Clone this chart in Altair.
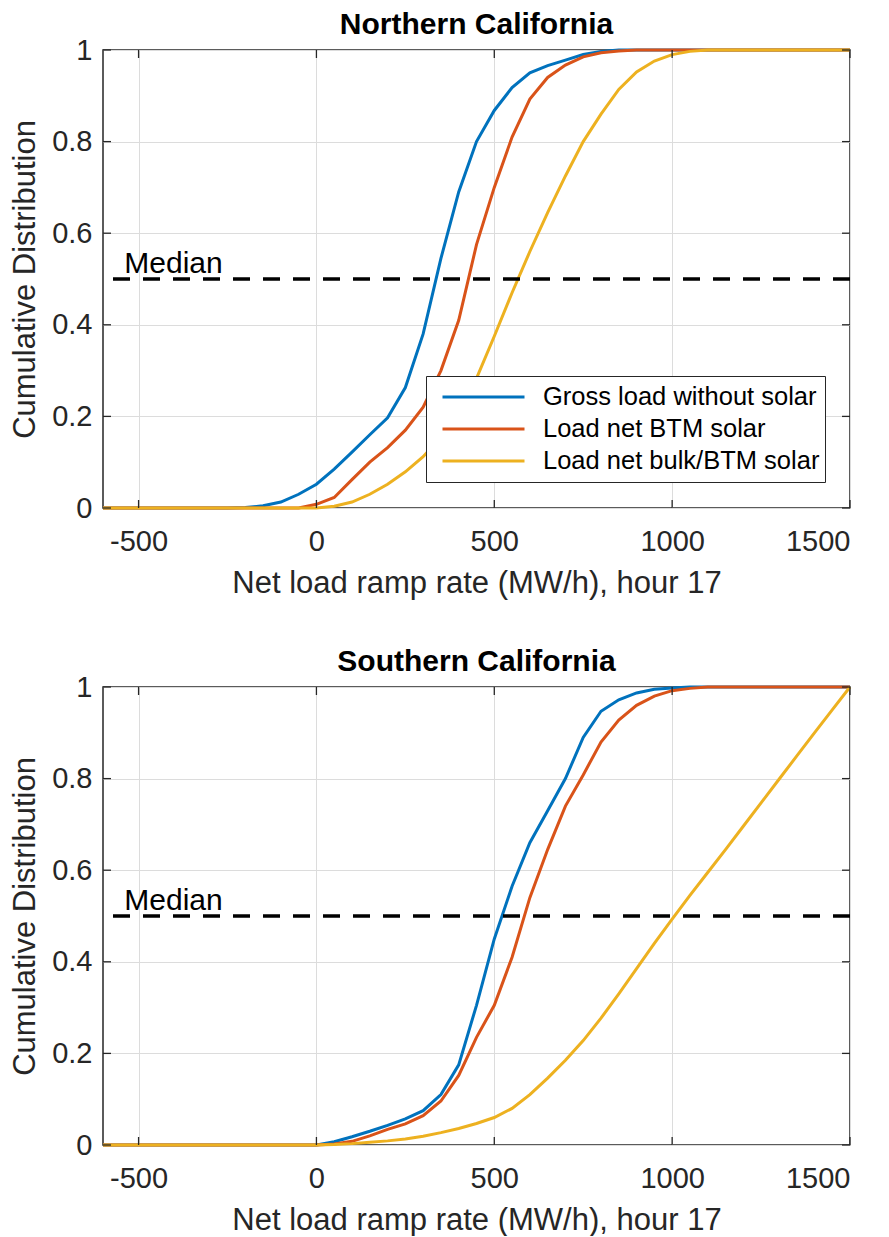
import altair as alt
import pandas as pd

FONT = "Liberation Sans"

series_names = ["Gross load without solar", "Load net BTM solar", "Load net bulk/BTM solar"]
series_colors = ["#0072BD", "#D95319", "#EDB120"]

x_ticks = [-500, 0, 500, 1000, 1500]
y_ticks = [0, 0.2, 0.4, 0.6, 0.8, 1]
median_level = 0.5
median_label_x = -540

# Northern California
n_blue_x = [-600, -250, -200, -150, -100, -50, 0, 50, 100, 150, 200, 250, 300, 350, 400, 450, 500, 550, 600, 650, 700, 750, 800, 850, 1500]
n_blue_y = [0, 0, 0.001, 0.005, 0.013, 0.03, 0.052, 0.085, 0.122, 0.16, 0.197, 0.263, 0.38, 0.545, 0.69, 0.80, 0.868, 0.918, 0.95, 0.966, 0.978, 0.99, 0.997, 1.0, 1.0]
n_red_x = [-600, -50, 0, 50, 100, 150, 200, 250, 300, 350, 400, 450, 500, 550, 600, 650, 700, 750, 800, 850, 900, 1500]
n_red_y = [0, 0, 0.008, 0.023, 0.062, 0.1, 0.132, 0.17, 0.22, 0.30, 0.41, 0.575, 0.70, 0.81, 0.893, 0.94, 0.967, 0.985, 0.994, 0.998, 1.0, 1.0]
n_yel_x = [-600, 0, 50, 100, 150, 200, 250, 300, 350, 400, 450, 500, 550, 600, 650, 700, 750, 800, 850, 900, 950, 1000, 1050, 1100, 1500]
n_yel_y = [0, 0, 0.004, 0.013, 0.03, 0.052, 0.079, 0.112, 0.155, 0.205, 0.283, 0.375, 0.47, 0.56, 0.645, 0.725, 0.80, 0.86, 0.914, 0.952, 0.976, 0.99, 0.997, 1.0, 1.0]

# Southern California
s_blue_x = [-600, 0, 50, 100, 150, 200, 250, 300, 350, 400, 450, 500, 550, 600, 650, 700, 750, 800, 850, 900, 950, 1000, 1050, 1500]
s_blue_y = [0, 0, 0.007, 0.018, 0.03, 0.043, 0.057, 0.075, 0.11, 0.175, 0.305, 0.45, 0.565, 0.66, 0.73, 0.80, 0.89, 0.947, 0.972, 0.987, 0.995, 0.998, 1.0, 1.0]
s_red_x = [-600, 0, 50, 100, 150, 200, 250, 300, 350, 400, 450, 500, 550, 600, 650, 700, 750, 800, 850, 900, 950, 1000, 1050, 1100, 1500]
s_red_y = [0, 0, 0.002, 0.008, 0.02, 0.034, 0.046, 0.064, 0.096, 0.152, 0.235, 0.305, 0.41, 0.54, 0.645, 0.74, 0.808, 0.88, 0.928, 0.96, 0.98, 0.992, 0.997, 1.0, 1.0]
s_yel_x = [-600, 0, 50, 100, 150, 200, 250, 300, 350, 400, 450, 500, 550, 600, 650, 700, 750, 800, 850, 900, 950, 1000, 1050, 1100, 1150, 1200, 1250, 1300, 1350, 1400, 1450, 1500]
s_yel_y = [0, 0, 0.001, 0.003, 0.006, 0.009, 0.013, 0.019, 0.027, 0.036, 0.047, 0.06, 0.08, 0.11, 0.146, 0.185, 0.228, 0.277, 0.33, 0.385, 0.44, 0.493, 0.545, 0.595, 0.645, 0.696, 0.747, 0.798, 0.849, 0.9, 0.95, 1.0]

W, H = 747, 458
TICK = 8


def make_df(xs_list, ys_list):
    rows = []
    for name, xs, ys in zip(series_names, xs_list, ys_list):
        for i, (x, y) in enumerate(zip(xs, ys)):
            rows.append({"x": x, "y": y, "series": name, "order": i})
    return pd.DataFrame(rows)


xscale = alt.Scale(domain=[-600, 1500], nice=False, zero=False)
yscale = alt.Scale(domain=[0, 1], nice=False, zero=False)
xaxis = alt.Axis(values=x_ticks, title="Net load ramp rate (MW/h), hour 17",
                 labelPadding=19, titlePadding=12, labelExpr="'' + datum.value")
yaxis = alt.Axis(values=y_ticks, title="Cumulative Distribution",
                 labelPadding=11, titlePadding=10, format="~g")


def X():
    return alt.X("x:Q", scale=xscale, axis=xaxis)


def Y():
    return alt.Y("y:Q", scale=yscale, axis=yaxis)


def panel(df, title, show_legend):
    if show_legend:
        legend = alt.Legend(
            orient="none", legendX=323, legendY=326, title=None,
            symbolType="stroke", symbolSize=6724, symbolStrokeWidth=3,
            clipHeight=32, labelFontSize=25.5, labelFont=FONT, labelColor="black",
            labelOffset=17, symbolOffset=10, padding=5, labelLimit=500,
            strokeColor="#262626", fillColor="white", rowPadding=0,
        )
    else:
        legend = None
    lines = alt.Chart(df).mark_line(strokeWidth=3).encode(
        x=X(), y=Y(),
        color=alt.Color("series:N", scale=alt.Scale(domain=series_names, range=series_colors),
                        sort=series_names, legend=legend),
        order="order:Q",
    )
    med_df = pd.DataFrame({"x": [median_label_x], "y": [median_level], "t": ["Median"]})
    rule = alt.Chart(med_df).mark_rule(color="black", strokeWidth=3.5, strokeDash=[17, 13]).encode(y=Y())
    label = alt.Chart(med_df).mark_text(align="left", baseline="alphabetic", dy=-6, fontSize=30,
                                        font=FONT, color="black").encode(x=X(), y=Y(), text="t:N")
    xt = pd.DataFrame({"x": x_ticks})
    yt = pd.DataFrame({"y": y_ticks})
    tick_style = dict(color="#262626", strokeWidth=1.3)
    xb = alt.Chart(xt).mark_rule(**tick_style).encode(x=X(), y=alt.value(H), y2=alt.value(H - TICK))
    xtp = alt.Chart(xt).mark_rule(**tick_style).encode(x=X(), y=alt.value(0), y2=alt.value(TICK))
    yl = alt.Chart(yt).mark_rule(**tick_style).encode(y=Y(), x=alt.value(0), x2=alt.value(TICK))
    yr = alt.Chart(yt).mark_rule(**tick_style).encode(y=Y(), x=alt.value(W), x2=alt.value(W - TICK))
    return alt.layer(lines, rule, label, xb, xtp, yl, yr).properties(
        width=W, height=H,
        title=alt.TitleParams(title, baseline="alphabetic", offset=-28),
    )


top = panel(make_df([n_blue_x, n_red_x, n_yel_x], [n_blue_y, n_red_y, n_yel_y]), "Northern California", True)
bottom = panel(make_df([s_blue_x, s_red_x, s_yel_x], [s_blue_y, s_red_y, s_yel_y]), "Southern California", False)

chart = alt.vconcat(top, bottom, spacing=47, padding={"left": 0, "top": 1, "right": 0, "bottom": 0}).resolve_scale(
    color="independent"
).configure_view(
    stroke="#262626", strokeWidth=1.5
).configure_axis(
    grid=True, gridColor="#dcdcdc", gridWidth=1, domain=False, ticks=False, tickSize=0,
    labelFont=FONT, labelFontSize=29, labelColor="#262626",
    titleFont=FONT, titleFontSize=31, titleColor="#262626", titleFontWeight="normal",
).configure_title(
    font=FONT, fontSize=30, fontWeight="bold", color="black", anchor="middle"
)

chart.save("out.html", embed_options={"renderer": "svg", "actions": False})
